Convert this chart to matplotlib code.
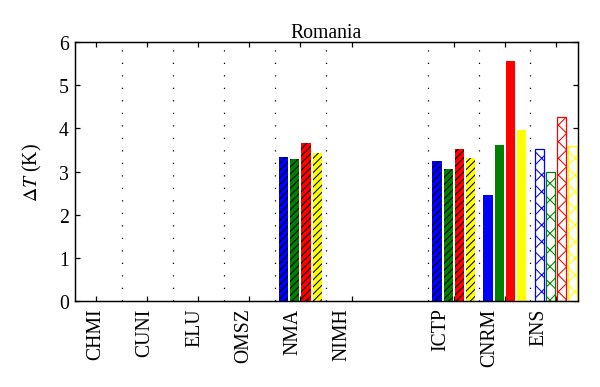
import matplotlib
matplotlib.use("Agg")
import matplotlib.pyplot as plt
import numpy as np

plt.rcParams['font.family'] = ['Liberation Serif', 'DejaVu Serif']
plt.rcParams['mathtext.fontset'] = 'stix'
plt.rcParams['hatch.linewidth'] = 0.5

# Data
categories = ["CHMI", "CUNI", "ELU", "OMSZ", "NMA", "NIMH", "ICTP", "CNRM", "ENS"]
cat_pos = [1, 2, 3, 4, 5, 6, 8, 9, 10]
series_colors = ["#0000ff", "#007f00", "#ff0000", "#ffff00"]
nma = [3.34, 3.30, 3.65, 3.43]
ictp = [3.25, 3.05, 3.51, 3.32]
cnrm = [2.45, 3.62, 5.55, 3.95]
ens = [3.52, 2.98, 4.26, 3.60]
yticks = [0, 1, 2, 3, 4, 5, 6]

fig = plt.figure(figsize=(4, 388 / 150), dpi=150)
ax = fig.add_axes([75 / 600, 1 - 302 / 388, (578 - 75) / 600, (302 - 43) / 388])

offsets = np.array([-0.33, -0.11, 0.11, 0.33])
width = 0.18
fs = 9.5

def group(pos, vals, style):
    for off, v, c in zip(offsets, vals, series_colors):
        x = pos + off
        if style == 'hatch':
            ax.bar(x, v, width, color=c, edgecolor=c, linewidth=0, zorder=2)
            ax.bar(x, v, width, facecolor='none', edgecolor='black', linewidth=0,
                   hatch='///////', zorder=3)
        elif style == 'solid':
            ax.bar(x, v, width, color=c, edgecolor=c, linewidth=0, zorder=2)
        else:
            ax.bar(x, v, width, facecolor='white', edgecolor=c, linewidth=0.6,
                   hatch='xxx', zorder=2)

group(cat_pos[4], nma, 'hatch')
group(cat_pos[6], ictp, 'hatch')
group(cat_pos[7], cnrm, 'solid')
group(cat_pos[8], ens, 'open')

# dotted separators
for xs in [1.5, 2.5, 3.5, 4.5, 5.5, 7.5, 8.5, 9.5]:
    ax.plot([xs, xs], [0, 6], color='black', linewidth=0.6,
            linestyle=(0, (1, 9)), zorder=1)

ax.set_xlim(0.59, 10.43)
ax.set_ylim(0, 6)
ax.set_yticks(yticks)
ax.set_yticklabels([str(t) for t in yticks], fontsize=fs)
ax.set_xticks(cat_pos)
ax.set_xticklabels([])
ax.tick_params(axis='both', direction='in', length=2.5, width=0.6,
               top=True, right=True, pad=3)
for s in ax.spines.values():
    s.set_linewidth(0.7)

trans = matplotlib.transforms.blended_transform_factory(ax.transData, ax.transAxes)
for p, lab in zip(cat_pos, categories):
    lx = 1 + (p - 1) * 0.963
    ax.text(lx, -0.025, lab, transform=trans, rotation=90, ha='center', va='top',
            fontsize=fs)

ax.set_ylabel(r'$\Delta T$ (K)', fontsize=fs, labelpad=7)
ax.set_title('Romania', fontsize=fs, pad=2)

fig.savefig('out.png', dpi=150)
